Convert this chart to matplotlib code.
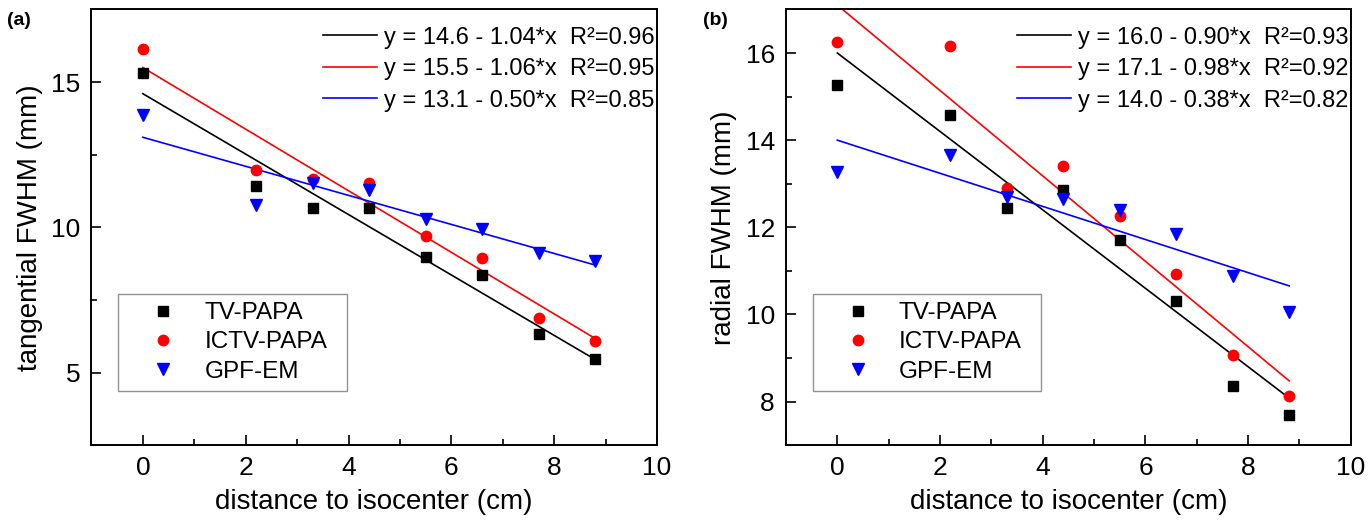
import numpy as np
import matplotlib
matplotlib.use("Agg")
import matplotlib.pyplot as plt
from matplotlib.ticker import MultipleLocator

plt.rcParams["font.family"] = ["Liberation Sans", "DejaVu Sans"]

dist = [0, 2.2, 3.3, 4.4, 5.5, 6.6, 7.7, 8.8]
series = ["TV-PAPA", "ICTV-PAPA", "GPF-EM"]

# (a) tangential FWHM (mm)
tan_tv = [15.31, 11.41, 10.68, 10.68, 8.97, 8.36, 6.32, 5.46]
tan_ictv = [16.15, 11.96, 11.67, 11.53, 9.70, 8.96, 6.88, 6.09]
tan_gpf = [13.85, 10.76, 11.54, 11.27, 10.30, 9.94, 9.13, 8.83]
tan_intercept = [14.6, 15.5, 13.1]
tan_slope = [1.04, 1.06, 0.50]
tan_r2 = [0.96, 0.95, 0.85]

# (b) radial FWHM (mm)
rad_tv = [15.27, 14.57, 12.44, 12.85, 11.70, 10.31, 8.37, 7.69]
rad_ictv = [16.25, 16.16, 12.90, 13.40, 12.25, 10.92, 9.06, 8.13]
rad_gpf = [13.27, 13.66, 12.69, 12.66, 12.39, 11.84, 10.88, 10.06]
rad_intercept = [16.0, 17.1, 14.0]
rad_slope = [0.90, 0.98, 0.38]
rad_r2 = [0.93, 0.92, 0.82]

colors = ["black", "red", "blue"]
markers = ["s", "o", "v"]
msizes = [7, 7.5, 8.5]

fig = plt.figure(figsize=(13.71, 5.25), dpi=100)
ax1 = fig.add_axes([0.0667, 0.152, 0.4125, 0.830])
ax2 = fig.add_axes([0.5733, 0.152, 0.4120, 0.830])


def panel(ax, data, intercepts, slopes, r2s, ylabel, ylim, major, minor):
    xfit = np.array([dist[0], dist[-1]])
    line_handles = []
    for b, m, r2, c in zip(intercepts, slopes, r2s, colors):
        h, = ax.plot(xfit, b - m * xfit, color=c, lw=1.2)
        h.set_label(f"y = {b:.1f} - {m:.2f}*x  R\u00b2={r2:.2f}")
        line_handles.append(h)
    pt_handles = []
    for vals, c, mk, ms, name in zip(data, colors, markers, msizes, series):
        h, = ax.plot(dist, vals, ls="none", marker=mk, color=c, ms=ms,
                     mec=c, label=name)
        pt_handles.append(h)

    ax.set_xlim(-1, 10)
    ax.set_ylim(*ylim)
    ax.xaxis.set_major_locator(MultipleLocator(2))
    ax.xaxis.set_minor_locator(MultipleLocator(1))
    ax.yaxis.set_major_locator(MultipleLocator(major))
    ax.yaxis.set_minor_locator(MultipleLocator(minor))
    ax.tick_params(which="both", direction="in", top=False, right=False,
                   labelsize=19, width=1.2)
    ax.tick_params(which="major", length=7, pad=8)
    ax.tick_params(which="minor", length=4)
    for s in ax.spines.values():
        s.set_linewidth(1.4)
    ax.set_xlabel("distance to isocenter (cm)", fontsize=20, labelpad=6)
    ax.set_ylabel(ylabel, fontsize=20, labelpad=6)

    # fit equations, top right
    leg1 = ax.legend(handles=line_handles, loc="upper right",
                     bbox_to_anchor=(1.0, 0.966), frameon=False,
                     fontsize=17, handlelength=2.3, handletextpad=0.3,
                     labelspacing=0.4, borderpad=0.1, borderaxespad=0.0)
    ax.add_artist(leg1)
    # data markers, boxed
    leg2 = ax.legend(handles=pt_handles, loc="upper left",
                     bbox_to_anchor=(0.047, 0.0, 0.405, 0.348), mode="expand",
                     fontsize=17.5, frameon=True, fancybox=False,
                     handlelength=3.0, handletextpad=0.2, labelspacing=0.3,
                     borderpad=0.35, borderaxespad=0.0)
    leg2.get_frame().set_edgecolor("#777777")
    leg2.get_frame().set_linewidth(1.0)


panel(ax1, [tan_tv, tan_ictv, tan_gpf], tan_intercept, tan_slope, tan_r2,
      "tangential FWHM (mm)", (2.5, 17.5), 5, 2.5)
panel(ax2, [rad_tv, rad_ictv, rad_gpf], rad_intercept, rad_slope, rad_r2,
      "radial FWHM (mm)", (7, 17), 2, 1)

fig.text(0.005, 0.952, "(a)", fontsize=14, fontweight="bold")
fig.text(0.513, 0.952, "(b)", fontsize=14, fontweight="bold")

fig.savefig("out.png", dpi=100)
